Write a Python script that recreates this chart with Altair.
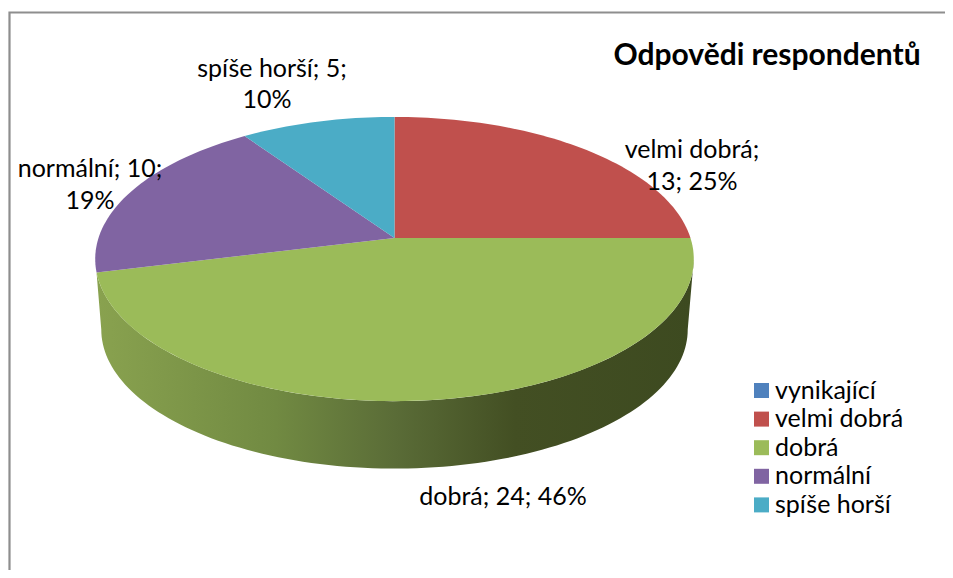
import math
import altair as alt

categories = ["vynikající", "velmi dobrá", "dobrá", "normální", "spíše horší"]
values = [0, 13, 24, 10, 5]
colors = ["#4f81bd", "#c0504d", "#9bbb59", "#8064a2", "#4bacc6"]

title_text = "Odpovědi respondentů"
label_rows = [
    ("spíše horší; 5;", 272, 76.5),
    ("10%", 267, 107.5),
    ("velmi dobrá;", 692, 158),
    ("13; 25%", 692, 189.5),
    ("normální; 10;", 90, 177),
    ("19%", 90, 208.5),
    ("dobrá; 24; 46%", 503, 504.5),
]
wall_stops = [
    (0.0, "#89a24f"), (0.3, "#718a42"), (0.5, "#5a6c37"),
    (0.7, "#434f23"), (1.0, "#3d4a20"),
]

# perspective view of the pie disc
CX, TOP_Y, BOT_Y = 394.5, 238.0, 309.0
K = 0.148
TOP_R, TOP_S = 296.0, 139.0
BOT_R, BOT_S = 290.0, 136.0


def project(deg, cy, r, s):
    t = math.radians(deg)
    u, v = math.sin(t), math.cos(t)
    d = 1 + K * v
    return [CX + r * u / d, cy - s * v / d]


def arc(a0, a1, cy, r, s):
    n = max(2, int(abs(a1 - a0) / 1.5) + 2)
    return [project(a0 + (a1 - a0) * i / (n - 1), cy, r, s) for i in range(n)]


total = sum(values)
slices = []
start = 0.0
spans = {}
for name, val in zip(categories, values):
    end = start + 360.0 * val / total
    spans[name] = (start, end)
    ring = [[CX, TOP_Y]] + arc(start, end, TOP_Y, TOP_R, TOP_S) + [[CX, TOP_Y]]
    slices.append({"type": "Feature",
                   "geometry": {"type": "Polygon", "coordinates": [ring]},
                   "properties": {"name": name}})
    start = end

g0, g1 = spans["dobrá"]
wall_ring = (arc(98.5, g1, TOP_Y, TOP_R, TOP_S)
             + arc(261.5, 98.5, BOT_Y, BOT_R, BOT_S))
wall_ring.append(wall_ring[0])
wall = [{"type": "Feature",
         "geometry": {"type": "Polygon", "coordinates": [wall_ring]},
         "properties": {"name": "wall"}}]

frame = [{"type": "Feature",
          "geometry": {"type": "LineString",
                       "coordinates": [[9.5, 578], [9.5, 12.5], [953, 12.5]]},
          "properties": {}}]

proj = dict(type="identity", scale=1, translate=[-8, -8])

frame_layer = alt.Chart(alt.Data(values=frame)).mark_geoshape(
    filled=False, stroke="#8e8e8e", strokeWidth=2.2
).project(**proj)

wall_layer = alt.Chart(alt.Data(values=wall)).mark_geoshape(
    strokeWidth=0,
    fill=alt.Gradient(
        gradient="linear", x1=0, x2=1, y1=0, y2=0,
        stops=[alt.GradientStop(offset=o, color=c) for o, c in wall_stops],
    ),
).project(**proj)

slice_layer = alt.Chart(alt.Data(values=slices)).mark_geoshape(
    strokeWidth=0
).encode(
    color=alt.Color(
        "properties.name:N",
        scale=alt.Scale(domain=categories, range=colors),
        legend=alt.Legend(
            title=None, orient="none", legendX=741, legendY=370,
            symbolType="square", symbolSize=225, symbolStrokeWidth=0,
            symbolOpacity=1, labelFont="Lato", labelFontSize=25,
            labelColor="#000000", labelOffset=1, rowPadding=2.6,
            labelLimit=300,
        ),
    )
).project(**proj)

text_layer = alt.Chart(alt.Data(values=[
    {"t": t, "px": x, "py": y} for t, x, y in label_rows
])).mark_text(
    font="Lato", fontSize=25, color="#000000", align="center", baseline="alphabetic"
).encode(
    longitude="px:Q", latitude="py:Q", text="t:N"
).project(**proj)

title_layer = alt.Chart(alt.Data(values=[
    {"t": title_text, "px": 767, "py": 65}
])).mark_text(
    font="Lato", fontSize=30, fontWeight="bold", color="#000000",
    align="center", baseline="alphabetic"
).encode(
    longitude="px:Q", latitude="py:Q", text="t:N"
).project(**proj)

chart = alt.layer(
    frame_layer, wall_layer, slice_layer, text_layer, title_layer
).properties(
    width=937, height=562, padding=0, background="#ffffff"
).configure_view(stroke=None)

chart.save("out.html", embed_options={"renderer": "svg", "actions": False})
